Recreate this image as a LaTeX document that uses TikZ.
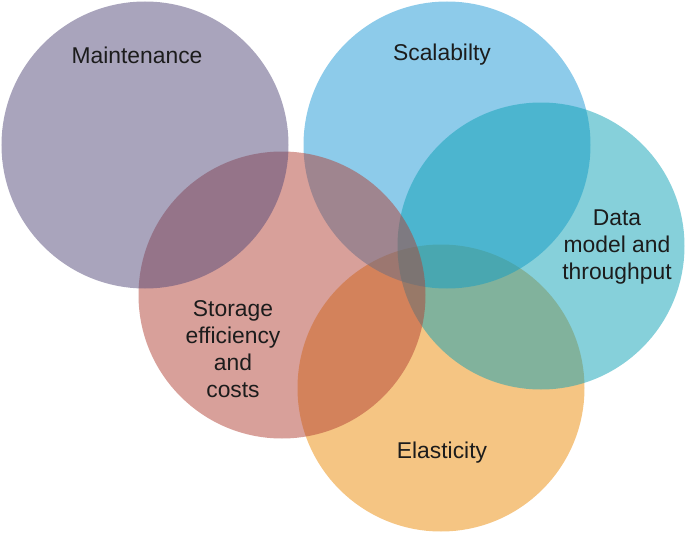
\documentclass[tikz,border=0pt]{standalone}
\usepackage{fontspec}
\setmainfont{Liberation Sans}
\definecolor{maintcol}{HTML}{534979}
\definecolor{scalecol}{HTML}{1B97D5}
\definecolor{datacol}{HTML}{0DA1B5}
\definecolor{storecol}{HTML}{B14135}
\definecolor{elastcol}{HTML}{EB8B07}
\definecolor{labelcol}{HTML}{1C1C1C}
\begin{document}
\begin{tikzpicture}[every node/.style={font=\fontsize{13}{15.5}\selectfont,text=labelcol,align=center}]
\def\R{2.87}
\useasboundingbox (0,0) rectangle (13.70,10.64);
\fill[elastcol,fill opacity=.5] (8.82,2.88) circle (\R);
\fill[scalecol,fill opacity=.5] (8.94,7.74) circle (\R);
\fill[datacol,fill opacity=.5] (10.82,5.72) circle (\R);
\fill[storecol,fill opacity=.5] (5.64,4.74) circle (\R);
\fill[maintcol,fill opacity=.5] (2.90,7.74) circle (\R);
\node (maint) at (2.74,9.54) {Maintenance};
\node (scale) at (8.84,9.54) {Scalabilty};
\node (data) at (12.34,5.70) {Data\\model and\\throughput};
\node (store) at (4.66,3.66) {Storage\\efficiency\\and\\costs};
\node (elast) at (8.84,1.58) {Elasticity};
\end{tikzpicture}
\end{document}
